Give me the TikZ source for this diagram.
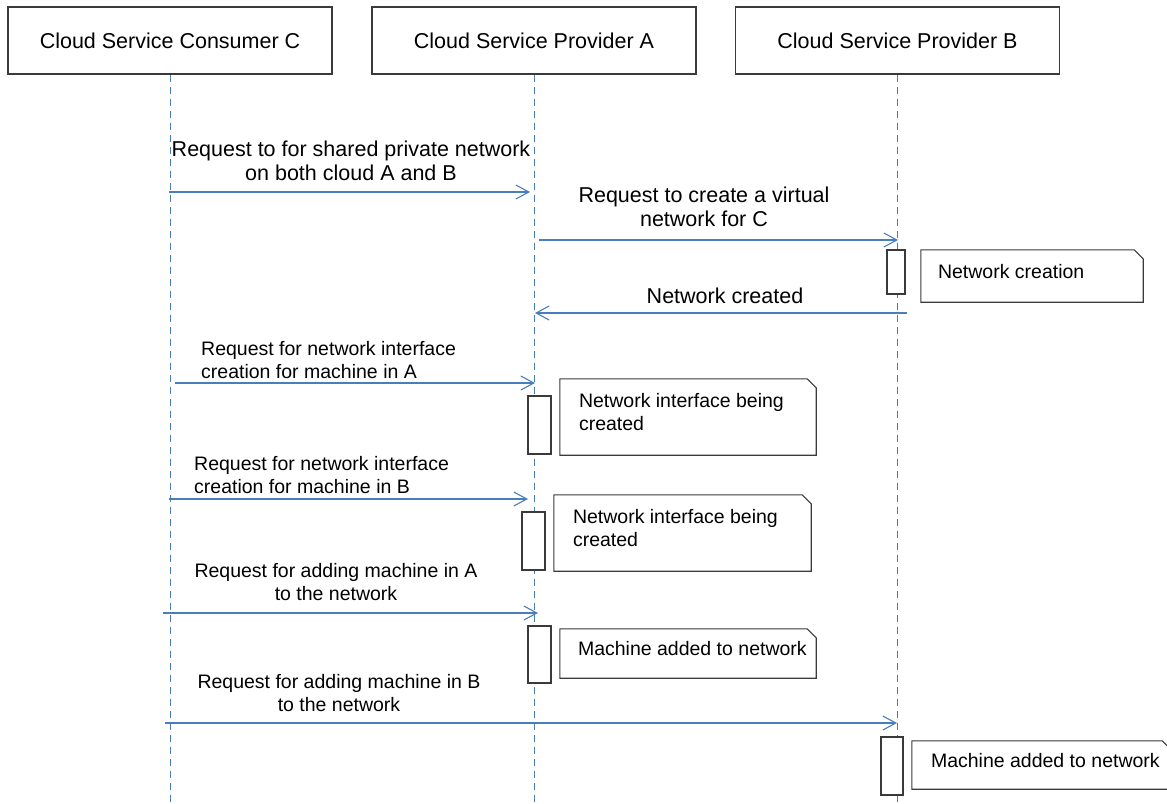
\documentclass[tikz,border=0pt]{standalone}
\usepackage{fontspec}
\setmainfont{Liberation Sans}
\usepackage{tikz}
\usetikzlibrary{positioning, arrows.meta}
\usepackage{xcolor}

\definecolor{lineblue}{HTML}{4A7EBB}
\definecolor{boxgray}{HTML}{3A3A3A}

\begin{document}
\begin{tikzpicture}[
	x=1pt, y=-1pt,
	actor/.style={draw=boxgray, line width=1.2pt, minimum width=324pt, minimum height=67pt, inner sep=0pt, font=\fontsize{21.5}{24}\selectfont},
	lifeline/.style={draw=lineblue, line width=1pt, dash pattern=on 7pt off 5pt},
	msg/.style={draw=lineblue, line width=1.1pt, -{Straight Barb[length=13pt, width=14pt, line width=1.1pt]}},
	biglabel/.style={font=\fontsize{21.5}{24}\selectfont, align=center, inner sep=0pt, text depth=0pt, anchor=south},
	smalllabel/.style={font=\fontsize{19.5}{23}\selectfont, inner sep=0pt, text depth=0pt},
	actbar/.style={draw=boxgray, fill=white, line width=1.1pt, inner sep=0pt},
	note/.style={fill=white, inner sep=0pt},
	noteline/.style={draw=boxgray, line width=1.1pt, line join=miter},
	notetext/.style={font=\fontsize{19.5}{23}\selectfont, align=left, inner sep=0pt, yshift=4.5pt}
]
	\useasboundingbox (0,0) rectangle (1167,803);
	\clip (0,0) rectangle (1167,803);
	\coordinate (bottom) at (0,803);

	% participants
	\node[actor] (cons) at (170,40.5) {Cloud Service Consumer C};
	\node[actor] (provA) at (534,40.5) {Cloud Service Provider A};
	\node[actor] (provB) at (897.5,40.5) {Cloud Service Provider B};

	\draw[lifeline] (cons) -- (cons |- bottom);
	\draw[lifeline] (provA) -- (provA |- bottom);
	\draw[lifeline] (provB) -- (provB |- bottom);

	% activations and notes
	\node[actbar, minimum width=18pt, minimum height=44pt] (barB1) at (896,272) {};
	\node[note, minimum width=222pt, minimum height=52pt] (noteB1) at (1032,276) {};
	\node[notetext, right=17pt of noteB1.west] (txtB1) {Network creation};

	\node[actbar, minimum width=23pt, minimum height=58pt] (barA1) at (539.5,425) {};
	\node[note, minimum width=256pt, minimum height=76pt] (noteA1) at (688,417) {};
	\node[notetext, right=19pt of noteA1.west] (txtA1) {Network interface being\\created};

	\node[actbar, minimum width=23pt, minimum height=58pt] (barA2) at (533.5,541) {};
	\node[note, minimum width=257pt, minimum height=76pt] (noteA2) at (682.5,533) {};
	\node[notetext, right=19pt of noteA2.west] (txtA2) {Network interface being\\created};

	\node[actbar, minimum width=23pt, minimum height=57pt] (barA3) at (539.5,654.5) {};
	\node[note, minimum width=256pt, minimum height=49pt] (noteA3) at (688,653.5) {};
	\node[notetext, right=18pt of noteA3.west] (txtA3) {Machine added to network};

	\node[actbar, minimum width=22pt, minimum height=58pt] (barB2) at (892,766) {};
	\node[note, minimum width=259pt, minimum height=48pt] (noteB2) at (1041.5,765) {};
	\node[notetext, right=19pt of noteB2.west] (txtB2) {Machine added to network};

	% folded corner outlines
	\foreach \n in {noteB1, noteA1, noteA2, noteA3, noteB2}
		\draw[noteline] (\n.south west) -- (\n.north west) -- ([xshift=-9pt]\n.north east)
			-- ([yshift=-9pt]\n.north east) -- (\n.south east) -- cycle;

	% messages
	\coordinate (m1s) at (169,192);
	\coordinate (m1e) at (530,192);
	\draw[msg] (m1s) -- (m1e);
	\node[biglabel] (lbl1) at (351,181) {Request to for shared private network\\on both cloud A and B};

	\coordinate (m2s) at (539,240);
	\coordinate (m2e) at (898,240);
	\draw[msg] (m2s) -- (m2e);
	\node[biglabel] (lbl2) at (704,227) {Request to create a virtual\\network for C};

	\coordinate (m3s) at (907,313);
	\coordinate (m3e) at (535,313);
	\draw[msg] (m3s) -- (m3e);
	\node[biglabel] (lbl3) at (725,304) {Network created};

	\coordinate (m4s) at (175,383);
	\coordinate (m4e) at (535,383);
	\draw[msg] (m4s) -- (m4e);
	\node[smalllabel, align=left, anchor=south west] (lbl4) at (201,379) {Request for network interface\\creation for machine in A};

	\coordinate (m5s) at (169,499);
	\coordinate (m5e) at (528,499);
	\draw[msg] (m5s) -- (m5e);
	\node[smalllabel, align=left, anchor=south west] (lbl5) at (194,494) {Request for network interface\\creation for machine in B};

	\coordinate (m6s) at (163,613);
	\coordinate (m6e) at (538,613);
	\draw[msg] (m6s) -- (m6e);
	\node[smalllabel, align=center, anchor=south] (lbl6) at (336,601) {Request for adding machine in A\\to the network};

	\coordinate (m7s) at (165,723);
	\coordinate (m7e) at (897,723);
	\draw[msg] (m7s) -- (m7e);
	\node[smalllabel, align=center, anchor=south] (lbl7) at (339,712) {Request for adding machine in B\\to the network};
\end{tikzpicture}
\end{document}
